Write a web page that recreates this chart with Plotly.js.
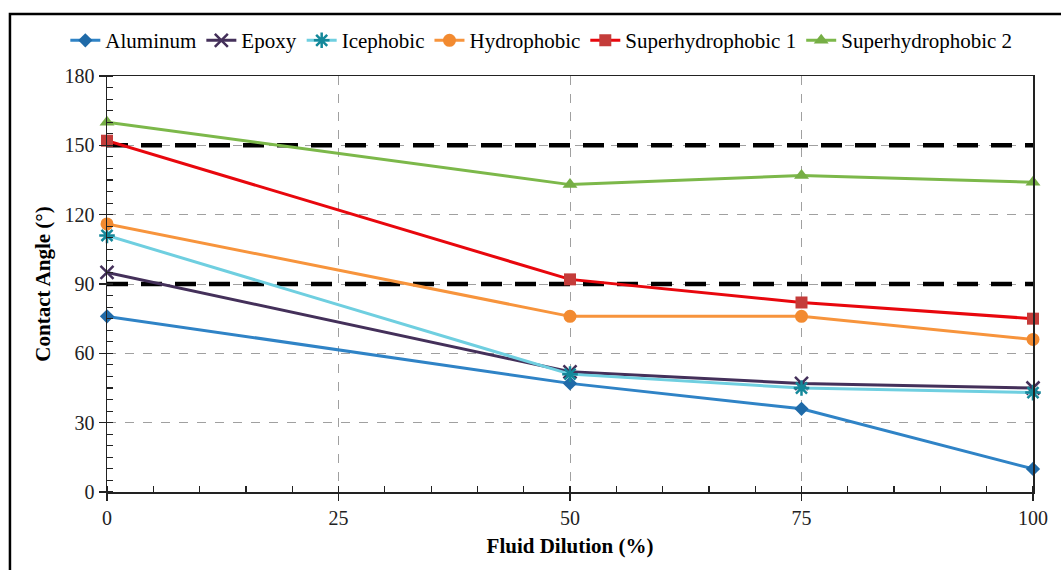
<!DOCTYPE html>
<html>
<head>
<meta charset="utf-8">
<script src="https://cdn.plot.ly/plotly-3.0.1.min.js"></script>
<style>
html,body{margin:0;padding:0;background:#fff;}
#chart{width:1061px;height:570px;}
</style>
</head>
<body>
<div id="chart"></div>
<script>
const dilution = [0, 50, 75, 100];
const aluminum = [76, 47, 36, 10];
const epoxy = [95, 52, 47, 45];
const icephobic = [111, 51, 45, 43];
const hydrophobic = [116, 76, 76, 66];
const superhydro1 = [152, 92, 82, 75];
const superhydro2 = [160, 133, 137, 134];
const refX = [0, 100];
const refLow = [90, 90];
const refHigh = [150, 150];

const font = "Liberation Serif, Times New Roman, serif";

function series(name, y, lineColor, symbol, markerColor, msize, extra) {
  const m = {symbol: symbol, size: msize, color: markerColor};
  if (extra) Object.assign(m, extra);
  return {x: dilution, y: y, name: name, type: 'scatter', mode: 'lines+markers', cliponaxis: false,
    line: {color: lineColor, width: 3}, marker: m};
}
function refLine(y) {
  return {x: refX, y: y, type: 'scatter', mode: 'lines', showlegend: false, hoverinfo: 'skip',
    line: {color: '#000000', width: 4.5, dash: '21px,13px'}};
}

const data = [
  refLine(refLow),
  refLine(refHigh),
  series('Aluminum', aluminum, '#2f83c6', 'diamond', '#1f6aa8', 11),
  series('Epoxy', epoxy, '#44305a', 'x-thin-open', '#44305a', 13, {line: {color: '#44305a', width: 2.5}}),
  series('Icephobic', icephobic, '#6fcfe0', 'asterisk-open', '#14889a', 13, {line: {color: '#14889a', width: 2.5}}),
  series('Hydrophobic', hydrophobic, '#f7943c', 'circle', '#f28a30', 13),
  series('Superhydrophobic 1', superhydro1, '#e8070d', 'square', '#c43c3a', 12),
  series('Superhydrophobic 2', superhydro2, '#7cb84a', 'triangle-up', '#76ae45', 13)
];

const layout = {
  width: 1061, height: 570,
  margin: {l: 107, r: 28, t: 76, b: 78, autoexpand: false},
  paper_bgcolor: '#ffffff', plot_bgcolor: '#ffffff',
  font: {family: font, size: 20, color: '#000000'},
  showlegend: true,
  legend: {orientation: 'h', x: -0.045, xanchor: 'left', y: 1.085, yanchor: 'middle',
    font: {family: font, size: 21, color: '#000000'}, tracegroupgap: 0,
    bgcolor: 'rgba(0,0,0,0)'},
  xaxis: {
    range: [0, 100], tick0: 0, dtick: 25, ticks: 'outside', ticklen: 7, tickwidth: 1.5, tickcolor: '#222',
    showline: true, linecolor: '#222', linewidth: 1.5, mirror: true,
    showgrid: true, gridcolor: '#a0a0a0', griddash: 'dash', gridwidth: 1,
    zeroline: false,
    minor: {dtick: 5, ticks: 'inside', ticklen: 6, tickcolor: '#222', tickwidth: 1.2, showgrid: false},
    tickfont: {family: font, size: 20, color: '#222'},
    title: {text: '<b>Fluid Dilution (%)</b>', font: {family: font, size: 21, color: '#000'}, standoff: 11}
  },
  yaxis: {
    range: [0, 180], tick0: 0, dtick: 30, ticks: 'outside', ticklen: 7, tickwidth: 1.5, tickcolor: '#222',
    showline: true, linecolor: '#222', linewidth: 1.5, mirror: true,
    showgrid: true, gridcolor: '#a0a0a0', griddash: 'dash', gridwidth: 1,
    zeroline: false,
    minor: {dtick: 5, ticks: 'inside', ticklen: 6, tickcolor: '#222', tickwidth: 1.2, showgrid: false},
    tickfont: {family: font, size: 20, color: '#222'},
    title: {text: '<b>Contact Angle (°)</b>', font: {family: font, size: 21, color: '#000'}, standoff: 8}
  },
  shapes: [
    {type: 'rect', xref: 'paper', yref: 'paper', x0: -0.1048, x1: 1.2, y0: -0.4, y1: 1.149,
     line: {color: '#000', width: 2.5}, fillcolor: 'rgba(0,0,0,0)'}
  ]
};

Plotly.newPlot('chart', data, layout, {displayModeBar: false, staticPlot: true});
</script>
</body>
</html>
